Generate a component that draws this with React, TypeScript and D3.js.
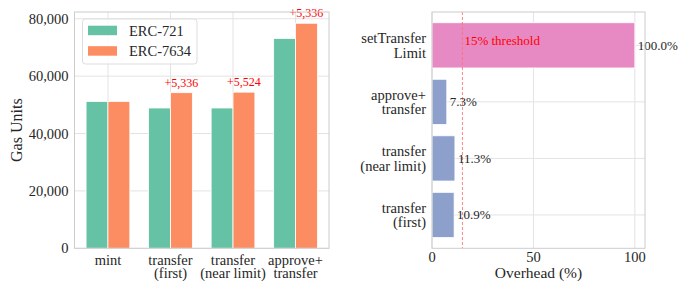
import React from "react";
import * as d3 from "d3";

const categories = ["mint", "transfer\n(first)", "transfer\n(near limit)", "approve+\ntransfer"];
const erc721 = [51200, 48900, 48900, 73100];
const erc7634 = [51200, 54236, 54424, 78436];
const seriesNames = ["ERC-721", "ERC-7634"];
const yTicks = [0, 20000, 40000, 60000, 80000];

const overheadLabels = ["transfer\n(first)", "transfer\n(near limit)", "approve+\ntransfer", "setTransfer\nLimit"];
const overheadValues = [10.9, 11.3, 7.3, 100.0];
const xTicksRight = [0, 50, 100];
const threshold = 15;

const GREEN = "#66c2a5";
const ORANGE = "#fc8d62";
const BLUE = "#8da0cb";
const PINK = "#e78ac3";
const GRID = "#e3e3e3";
const SPINE = "#cccccc";
const TEXT = "#262626";
const FS = { fontFamily: "Liberation Serif" };

export default function App() {
  // Left panel
  const L = { left: 74.5, right: 329, top: 12, bottom: 248.3 };
  const n = categories.length;
  const bw = 0.35;
  const xL = d3.scaleLinear().domain([-bw - 0.185, n - 1 + bw + 0.185]).range([L.left, L.right]);
  const yMax = d3.max(erc7634)! * 1.05;
  const yL = d3.scaleLinear().domain([0, yMax]).range([L.bottom, L.top]);
  const fmt = d3.format(",");
  const fmtDelta = d3.format("+,");

  // Right panel
  const R = { left: 432, right: 645, top: 12, bottom: 248.3 };
  const xR = d3.scaleLinear().domain([0, 105]).range([R.left, R.right]);
  const m = overheadLabels.length;
  const bh = 0.8;
  const yR = d3.scaleLinear().domain([-bh / 2 - 0.19, m - 1 + bh / 2 + 0.19]).range([R.bottom, R.top]);

  return (
    <svg width={684} height={287} style={{ position: "absolute", left: 0, top: 0 }}>
      <rect x={0} y={0} width={684} height={287} fill="#fff" />
      {/* LEFT PANEL */}
      <g>
        {yTicks.map((t) => (
          <line key={"gy" + t} x1={L.left} x2={L.right} y1={yL(t)} y2={yL(t)} stroke={GRID} strokeWidth={1} />
        ))}
        {categories.map((c, i) => (
          <line key={"gx" + i} x1={xL(i)} x2={xL(i)} y1={L.top} y2={L.bottom} stroke={GRID} strokeWidth={1} />
        ))}
        {categories.map((c, i) => (
          <g key={"bars" + i}>
            <rect x={xL(i - bw)} y={yL(erc721[i])} width={xL(i) - xL(i - bw)} height={yL(0) - yL(erc721[i])} fill={GREEN} stroke="#fff" strokeWidth={0.8} />
            <rect x={xL(i)} y={yL(erc7634[i])} width={xL(i + bw) - xL(i)} height={yL(0) - yL(erc7634[i])} fill={ORANGE} stroke="#fff" strokeWidth={0.8} />
          </g>
        ))}
        {categories.map((c, i) => {
          const d = erc7634[i] - erc721[i];
          if (d <= 0) return null;
          return (
            <text key={"ann" + i} x={xL(i + bw / 2)} y={yL(erc7634[i]) - 6} textAnchor="middle" fontSize={12} fill="red" style={FS}>
              {fmtDelta(d)}
            </text>
          );
        })}
        <rect x={L.left} y={L.top} width={L.right - L.left} height={L.bottom - L.top} fill="none" stroke={SPINE} strokeWidth={1} />
        {yTicks.map((t) => (
          <text key={"ty" + t} x={L.left - 6} y={yL(t) + 5} textAnchor="end" fontSize={14.5} fill={TEXT} style={FS}>
            {fmt(t)}
          </text>
        ))}
        {categories.map((c, i) => (
          <text key={"tx" + i} x={xL(i)} y={265} textAnchor="middle" fontSize={14.5} fill={TEXT} style={FS}>
            {c.split("\n").map((line, k) => (
              <tspan key={k} x={xL(i)} dy={k === 0 ? 0 : 13.4}>{line}</tspan>
            ))}
          </text>
        ))}
        <text transform={`translate(22,${(L.top + L.bottom) / 2}) rotate(-90)`} textAnchor="middle" fontSize={16} fill={TEXT} style={FS}>
          Gas Units
        </text>
        {/* Legend */}
        <rect x={82.5} y={19} width={114.5} height={45} rx={3} fill="#fff" fillOpacity={0.8} stroke="#dddddd" strokeWidth={1} />
        {seriesNames.map((s, k) => (
          <g key={"lg" + k}>
            <rect x={88} y={25.7 + k * 20.5} width={29} height={9.5} fill={k === 0 ? GREEN : ORANGE} />
            <text x={129} y={35.5 + k * 20.5} fontSize={14.5} fill={TEXT} style={FS}>{s}</text>
          </g>
        ))}
      </g>

      {/* RIGHT PANEL */}
      <g>
        {xTicksRight.map((t) => (
          <line key={"rgx" + t} x1={xR(t)} x2={xR(t)} y1={R.top} y2={R.bottom} stroke={GRID} strokeWidth={1} />
        ))}
        {overheadLabels.map((c, i) => (
          <line key={"rgy" + i} x1={R.left} x2={R.right} y1={yR(i)} y2={yR(i)} stroke={GRID} strokeWidth={1} />
        ))}
        {overheadValues.map((v, i) => (
          <rect key={"hb" + i} x={xR(0)} y={yR(i + bh / 2)} width={xR(v) - xR(0)} height={yR(i - bh / 2) - yR(i + bh / 2)} fill={v > threshold ? PINK : BLUE} stroke="#fff" strokeWidth={0.8} />
        ))}
        <line x1={xR(threshold)} x2={xR(threshold)} y1={R.top} y2={R.bottom} stroke="#ff7070" strokeWidth={1} strokeDasharray="3,2" opacity={0.85} />
        <text x={xR(threshold) + 2} y={45} fontSize={13} fill="red" style={FS}>15% threshold</text>
        {overheadValues.map((v, i) => (
          <text key={"vl" + i} x={xR(v) + 3} y={yR(i) + 4.5} fontSize={13} fill={TEXT} style={FS}>
            {v.toFixed(1)}%
          </text>
        ))}
        <rect x={R.left} y={R.top} width={R.right - R.left} height={R.bottom - R.top} fill="none" stroke={SPINE} strokeWidth={1} />
        {overheadLabels.map((c, i) => {
          const lines = c.split("\n");
          return (
            <text key={"ry" + i} x={R.left - 6} y={yR(i) - 2.3} textAnchor="end" fontSize={14.5} fill={TEXT} style={FS}>
              {lines.map((line, k) => (
                <tspan key={k} x={R.left - 6} dy={k === 0 ? 0 : 14.6}>{line}</tspan>
              ))}
            </text>
          );
        })}
        {xTicksRight.map((t) => (
          <text key={"rtx" + t} x={xR(t)} y={262} textAnchor="middle" fontSize={14.5} fill={TEXT} style={FS}>{t}</text>
        ))}
        <text x={(R.left + R.right) / 2} y={278} textAnchor="middle" fontSize={15.5} fill={TEXT} style={FS}>Overhead (%)</text>
      </g>
    </svg>
  );
}
